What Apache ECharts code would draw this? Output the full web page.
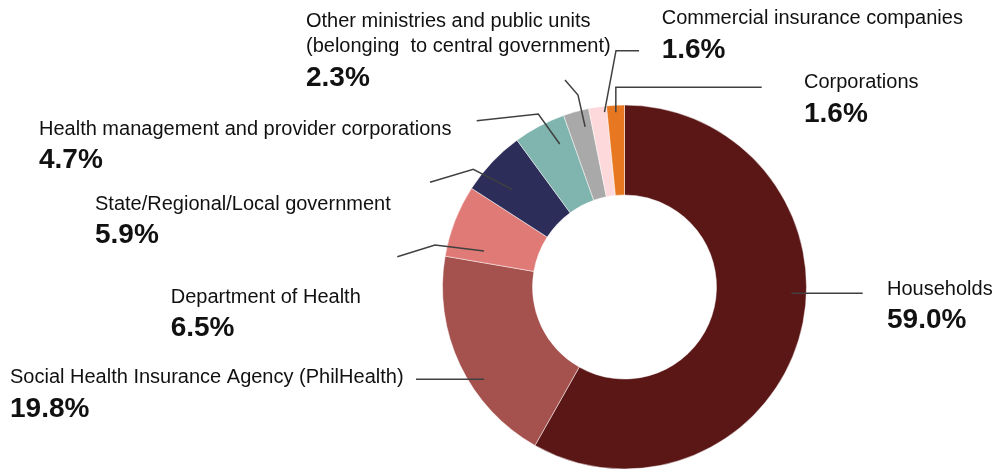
<!DOCTYPE html>
<html>
<head>
<meta charset="utf-8">
<script src="https://cdn.jsdelivr.net/npm/echarts@6/dist/echarts.min.js"></script>
<style>
  html, body { margin: 0; padding: 0; background: #ffffff; }
  #chart { width: 995px; height: 473px; }
</style>
</head>
<body>
<div id="chart"></div>
<script>
// Health expenditure by financing source (share of total, %)
const categories = [
  'Households',
  'Social Health Insurance Agency (PhilHealth)',
  'Department of Health',
  'State/Regional/Local government',
  'Health management and provider corporations',
  'Other ministries and public units\n(belonging  to central government)',
  'Commercial insurance companies',
  'Corporations'
];
const shares = [59.0, 19.8, 6.5, 5.9, 4.7, 2.3, 1.6, 1.6];
const shareLabels = ['59.0%', '19.8%', '6.5%', '5.9%', '4.7%', '2.3%', '1.6%', '1.6%'];

const palette = ['#5B1616', '#A5524E', '#E07A77', '#2C2D59', '#80B4AE', '#A9A9A9', '#FDD9DB', '#E87722'];

// ring geometry (px)
const CX = 624.5, CY = 287, R_IN = 92, R_OUT = 182;

// angle (degrees clockwise from 12 o'clock) of a point inside slice i
function sliceAngle(i, frac) {
  const total = shares.reduce((s, v) => s + v, 0);
  let start = 0;
  for (let k = 0; k < i; k++) start += shares[k];
  const a0 = start / total * 360;
  const a1 = (start + shares[i]) / total * 360;
  return a0 + (a1 - a0) * frac;
}
function anchorPoint(i, frac, r) {
  const t = sliceAngle(i, frac) * Math.PI / 180;
  return [CX + r * Math.sin(t), CY - r * Math.cos(t)];
}

// label block placement and leader routing for each slice
const labelPlacement = [
  { x: 887, y: 276.5, frac: 0.44, r: 167, route: a => [[862.7, a[1]], a] },
  { x: 10, y: 365, frac: 0.387, r: 168, route: a => [[416, a[1]], a] },
  { x: 170.7, y: 284.5, frac: 0.2, r: 145, route: a => [[397.3, 256.7], [435, 245], a] },
  { x: 95, y: 191.5, frac: 0.386, r: 149, route: a => [[430, 182.3], [473.3, 169.3], a] },
  { x: 39, y: 116.5, frac: 0.71, r: 157, route: a => [[476.7, 120.7], [538.3, 114], a] },
  { x: 306, y: 9, frac: 0.7, r: 165, route: a => [[565, 80], [578, 95], a] },
  { x: 661.7, y: 6, frac: 0.85, r: 176, route: a => [[639, 50.7], [616, 50.7], a] },
  { x: 804, y: 70, frac: 0.5, r: 175, route: a => [[761.7, 87.3], [a[0], 87.3], a] }
];

// leader lines, drawn above the ring
const leaderLines = labelPlacement.map((cfg, i) => ({
  type: 'polyline',
  z: 100,
  silent: true,
  shape: { points: cfg.route(anchorPoint(i, cfg.frac, cfg.r)) },
  style: { stroke: '#404040', lineWidth: 1.5, fill: null }
}));

const chart = echarts.init(document.getElementById('chart'), null, { renderer: 'canvas' });

chart.setOption({
  animation: false,
  backgroundColor: '#ffffff',
  textStyle: { fontFamily: 'Liberation Sans, Arial, sans-serif' },
  graphic: { elements: leaderLines },
  series: [{
    type: 'pie',
    center: [CX, CY],
    radius: [R_IN, R_OUT],
    startAngle: 90,
    clockwise: true,
    avoidLabelOverlap: false,
    silent: true,
    itemStyle: { borderColor: 'rgba(255,255,255,0.6)', borderWidth: 0.8 },
    emphasis: { disabled: true },
    label: {
      show: true,
      position: 'outside',
      formatter: p => '{n|' + p.name + '}\n{v|' + shareLabels[p.dataIndex] + '}',
      rich: {
        n: { fontSize: 20, lineHeight: 25, color: '#111111', fontFamily: 'Liberation Sans, Arial, sans-serif' },
        v: { fontSize: 28, lineHeight: 38, fontWeight: 'bold', color: '#111111', fontFamily: 'Liberation Sans, Arial, sans-serif' }
      }
    },
    labelLine: { show: false },
    labelLayout: function (params) {
      const cfg = labelPlacement[params.dataIndex];
      return { x: cfg.x, y: cfg.y, align: 'left', verticalAlign: 'top' };
    },
    data: categories.map((name, i) => ({
      name: name,
      value: shares[i],
      itemStyle: { color: palette[i] }
    }))
  }]
});
</script>
</body>
</html>
